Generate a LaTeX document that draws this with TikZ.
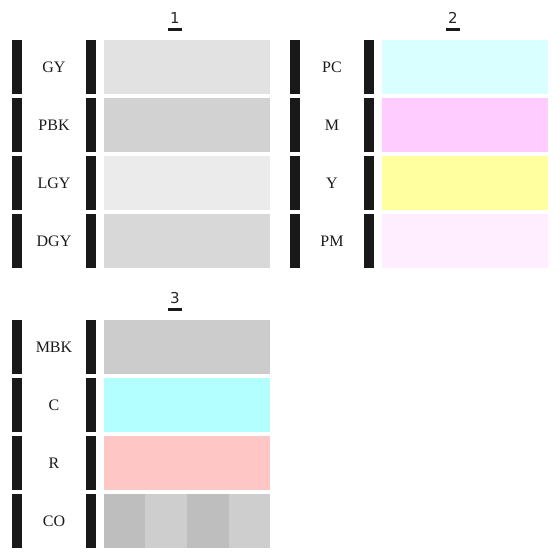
\documentclass[tikz,border=0pt]{standalone}
\usepackage{fontspec}
\setmainfont{Liberation Serif}
\newfontfamily\hdrfont{DejaVu Sans}
\begin{document}
\begin{tikzpicture}[x=1pt,y=-1pt,
  barbox/.style={fill=black!90,draw=none},
  lbl/.style={font=\fontsize{16}{16}\selectfont,text=black!90,inner sep=0pt},
  hdr/.style={font=\hdrfont\fontsize{15}{15}\selectfont,text=black!85,inner sep=0pt}]
\useasboundingbox (0,0) rectangle (560,560);
\definecolor{cGY}{HTML}{E2E2E2}
\definecolor{cPBK}{HTML}{D2D2D2}
\definecolor{cLGY}{HTML}{EBEBEB}
\definecolor{cDGY}{HTML}{D8D8D8}
\definecolor{cPC}{HTML}{D9FFFF}
\definecolor{cM}{HTML}{FFCCFF}
\definecolor{cY}{HTML}{FFFFA0}
\definecolor{cPM}{HTML}{FFEEFF}
\definecolor{cMBK}{HTML}{CCCCCC}
\definecolor{cC}{HTML}{B3FFFF}
\definecolor{cR}{HTML}{FFC6C6}
\definecolor{cCOa}{HTML}{BEBEBE}
\definecolor{cCOb}{HTML}{CECECE}
% groups: name, x offset, y offset, labels
\foreach \g/\ox/\oy in {1/0/0,2/278/0,3/0/280}{
  \node[hdr] (h\g) at (175+\ox,18+\oy) {\g};
  \fill[black!90] (168+\ox,28+\oy) rectangle (182+\ox,31+\oy);
}
\foreach \ox/\oy/\r/\t/\c in {
  0/0/0/GY/cGY, 0/0/1/PBK/cPBK, 0/0/2/LGY/cLGY, 0/0/3/DGY/cDGY,
  278/0/0/PC/cPC, 278/0/1/M/cM, 278/0/2/Y/cY, 278/0/3/PM/cPM,
  0/280/0/MBK/cMBK, 0/280/1/C/cC, 0/280/2/R/cR}{
  \pgfmathsetmacro\ytop{40+\oy+58*\r}
  \fill[black!90] (12+\ox,\ytop) rectangle (22+\ox,\ytop+54);
  \fill[black!90] (86+\ox,\ytop) rectangle (96+\ox,\ytop+54);
  \fill[\c] (104+\ox,\ytop) rectangle (270+\ox,\ytop+54);
  \node[lbl] (l\t) at (54+\ox,\ytop+27) {\t};
}
% CO row
\fill[black!90] (12,494) rectangle (22,548);
\fill[black!90] (86,494) rectangle (96,548);
\fill[cCOa] (104,494) rectangle (145,548);
\fill[cCOb] (145,494) rectangle (187,548);
\fill[cCOa] (187,494) rectangle (229,548);
\fill[cCOb] (229,494) rectangle (270,548);
\node[lbl] (lCO) at (54,521) {CO};
\end{tikzpicture}
\end{document}
